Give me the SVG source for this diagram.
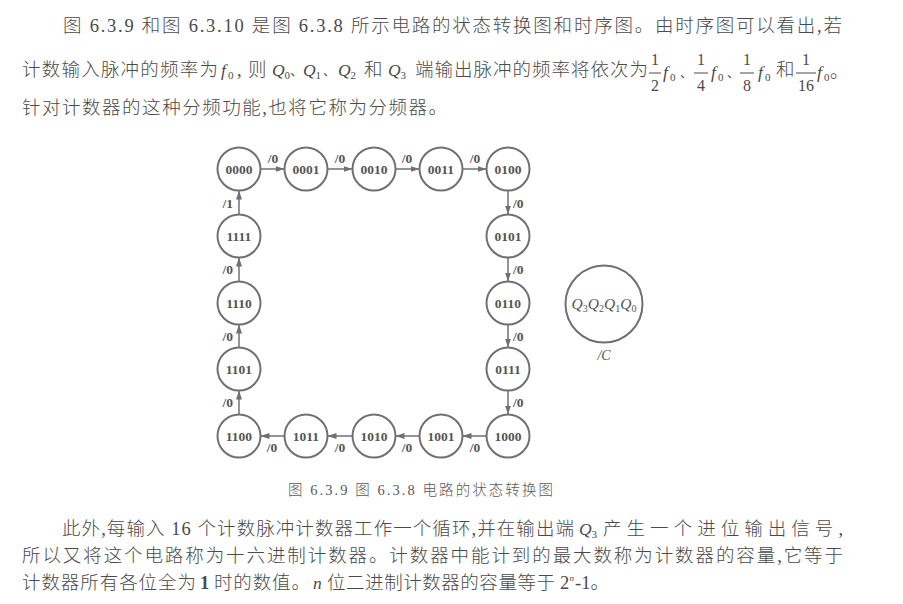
<svg xmlns="http://www.w3.org/2000/svg" width="903" height="604" viewBox="0 0 903 604">
<style>
.t{font-family:"Liberation Serif","Noto Sans CJK SC",serif;font-size:18.5px;fill:#4a4a4a;font-weight:300}
.it{font-family:"Liberation Serif",serif;font-style:italic;font-size:17.5px;fill:#4a4a4a}
.s{font-style:normal;font-size:11px}
.c{font-family:"Liberation Serif","Noto Sans CJK SC",serif;font-style:normal;font-size:18.5px;font-weight:300}
.d{font-family:"Noto Sans CJK SC",sans-serif;font-style:normal;font-size:12.5px;font-weight:400}
.n{font-style:normal;font-size:16px}
.sub{font-family:"Liberation Serif",serif;font-size:11px;fill:#4a4a4a}
.bar{stroke:#4a4a4a;stroke-width:1}
.cap{font-family:"Liberation Serif","Noto Sans CJK SC",serif;font-size:14.5px;fill:#5a5a5a;font-weight:300}
.node circle{fill:#fff;stroke:#707070;stroke-width:2}
.node text{font-family:"Liberation Serif",serif;font-weight:bold;font-size:13.5px;fill:#555;text-anchor:middle}
.edge{stroke:#707070;stroke-width:1.5;fill:none;marker-end:url(#ah)}
.lbl{font-family:"Liberation Serif",serif;font-weight:bold;font-size:13.5px;fill:#555}
.leg{font-family:"Liberation Serif",serif;font-style:italic;font-size:15px;fill:#555}
</style>
<defs>
<marker id="ah" viewBox="0 0 9 6" refX="9" refY="3" markerWidth="9" markerHeight="6" markerUnits="userSpaceOnUse" orient="auto">
<path d="M0,0 L9,3 L0,6 z" fill="#707070"/>
</marker>
</defs>
<rect width="903" height="604" fill="#fff"/>

<g id="text-top">
<text class="t" x="63" y="32" textLength="779" lengthAdjust="spacing">图 6.3.9 和图 6.3.10 是图 6.3.8 所示电路的状态转换图和时序图。由时序图可以看出,若</text>

<text class="t" x="22" y="76" textLength="196" lengthAdjust="spacing">计数输入脉冲的频率为</text>
<text class="it" y="76"><tspan x="221" y="76">f</tspan><tspan class="s" x="228" y="79">0</tspan><tspan class="c" x="237" y="76">,</tspan><tspan class="c" x="248" y="76">则</tspan><tspan x="272" y="76">Q</tspan><tspan class="s" x="284.5" y="79">0</tspan><tspan class="d" x="290.3" y="76">、</tspan><tspan x="303" y="76">Q</tspan><tspan class="s" x="315.5" y="79">1</tspan><tspan class="d" x="323" y="76">、</tspan><tspan x="338" y="76">Q</tspan><tspan class="s" x="350.5" y="79">2</tspan><tspan class="c" x="364" y="76">和</tspan><tspan x="388" y="76">Q</tspan><tspan class="s" x="400.5" y="79">3</tspan></text>
<text class="t" x="415" y="76" textLength="233" lengthAdjust="spacing">端输出脉冲的频率将依次为</text>

<line class="bar" x1="649" y1="73" x2="661" y2="73"/>
<line class="bar" x1="694" y1="73" x2="708" y2="73"/>
<line class="bar" x1="740" y1="73" x2="754" y2="73"/>
<line class="bar" x1="796" y1="73" x2="816" y2="73"/>
<text class="it" y="78"><tspan class="n" x="651" y="65">1</tspan><tspan class="n" x="651" y="91">2</tspan><tspan x="663" y="78">f</tspan><tspan class="s" x="670" y="81">0</tspan><tspan class="d" x="680" y="78">、</tspan><tspan class="n" x="697" y="65">1</tspan><tspan class="n" x="697" y="91">4</tspan><tspan x="711" y="78">f</tspan><tspan class="s" x="718" y="81">0</tspan><tspan class="d" x="727" y="78">、</tspan><tspan class="n" x="743" y="65">1</tspan><tspan class="n" x="743" y="91">8</tspan><tspan x="758" y="78">f</tspan><tspan class="s" x="765" y="81">0</tspan><tspan class="c" x="776" y="76">和</tspan><tspan class="n" x="802" y="65">1</tspan><tspan class="n" x="798" y="91">16</tspan><tspan x="817" y="78">f</tspan><tspan class="s" x="824" y="81">0</tspan><tspan class="c" x="830" y="78">。</tspan></text>

<text class="t" x="22" y="114" textLength="425" lengthAdjust="spacing">针对计数器的这种分频功能,也将它称为分频器。</text>
</g>

<g id="connectors">
<line class="edge" x1="260.5" y1="169" x2="284.5" y2="169"/>
<line class="edge" x1="327.5" y1="169" x2="352.5" y2="169"/>
<line class="edge" x1="395.5" y1="169" x2="419.5" y2="169"/>
<line class="edge" x1="462.5" y1="169" x2="486.5" y2="169"/>
<line class="edge" x1="508" y1="190.5" x2="508" y2="214.5"/>
<line class="edge" x1="508" y1="257.5" x2="508" y2="281.5"/>
<line class="edge" x1="508" y1="324.5" x2="508" y2="347.5"/>
<line class="edge" x1="508" y1="390.5" x2="508" y2="414.5"/>
<line class="edge" x1="486.5" y1="436" x2="462.5" y2="436"/>
<line class="edge" x1="419.5" y1="436" x2="395.5" y2="436"/>
<line class="edge" x1="352.5" y1="436" x2="327.5" y2="436"/>
<line class="edge" x1="284.5" y1="436" x2="260.5" y2="436"/>
<line class="edge" x1="239" y1="414.5" x2="239" y2="390.5"/>
<line class="edge" x1="239" y1="347.5" x2="239" y2="324.5"/>
<line class="edge" x1="239" y1="281.5" x2="239" y2="257.5"/>
<line class="edge" x1="239" y1="214.5" x2="239" y2="190.5"/>
<text class="lbl" x="273" y="163" text-anchor="middle">/0</text>
<text class="lbl" x="340" y="163" text-anchor="middle">/0</text>
<text class="lbl" x="407" y="163" text-anchor="middle">/0</text>
<text class="lbl" x="475" y="163" text-anchor="middle">/0</text>
<text class="lbl" x="513" y="208">/0</text>
<text class="lbl" x="513" y="274">/0</text>
<text class="lbl" x="513" y="341">/0</text>
<text class="lbl" x="513" y="407">/0</text>
<text class="lbl" x="475" y="452" text-anchor="middle">/0</text>
<text class="lbl" x="407" y="452" text-anchor="middle">/0</text>
<text class="lbl" x="340" y="452" text-anchor="middle">/0</text>
<text class="lbl" x="272" y="452" text-anchor="middle">/0</text>
<text class="lbl" x="233" y="407" text-anchor="end">/0</text>
<text class="lbl" x="233" y="341" text-anchor="end">/0</text>
<text class="lbl" x="233" y="274" text-anchor="end">/0</text>
<text class="lbl" x="233" y="208" text-anchor="end">/1</text>
</g>

<g id="n0000" class="node"><circle cx="239" cy="169" r="21.5"/><text x="239" y="173.5">0000</text></g>
<g id="n0001" class="node"><circle cx="306" cy="169" r="21.5"/><text x="306" y="173.5">0001</text></g>
<g id="n0010" class="node"><circle cx="374" cy="169" r="21.5"/><text x="374" y="173.5">0010</text></g>
<g id="n0011" class="node"><circle cx="441" cy="169" r="21.5"/><text x="441" y="173.5">0011</text></g>
<g id="n0100" class="node"><circle cx="508" cy="169" r="21.5"/><text x="508" y="173.5">0100</text></g>
<g id="n0101" class="node"><circle cx="508" cy="236" r="21.5"/><text x="508" y="240.5">0101</text></g>
<g id="n0110" class="node"><circle cx="508" cy="303" r="21.5"/><text x="508" y="307.5">0110</text></g>
<g id="n0111" class="node"><circle cx="508" cy="369" r="21.5"/><text x="508" y="373.5">0111</text></g>
<g id="n1000" class="node"><circle cx="508" cy="436" r="21.5"/><text x="508" y="440.5">1000</text></g>
<g id="n1001" class="node"><circle cx="441" cy="436" r="21.5"/><text x="441" y="440.5">1001</text></g>
<g id="n1010" class="node"><circle cx="374" cy="436" r="21.5"/><text x="374" y="440.5">1010</text></g>
<g id="n1011" class="node"><circle cx="306" cy="436" r="21.5"/><text x="306" y="440.5">1011</text></g>
<g id="n1100" class="node"><circle cx="239" cy="436" r="21.5"/><text x="239" y="440.5">1100</text></g>
<g id="n1101" class="node"><circle cx="239" cy="369" r="21.5"/><text x="239" y="373.5">1101</text></g>
<g id="n1110" class="node"><circle cx="239" cy="303" r="21.5"/><text x="239" y="307.5">1110</text></g>
<g id="n1111" class="node"><circle cx="239" cy="236" r="21.5"/><text x="239" y="240.5">1111</text></g>

<g id="legend" class="node">
<circle cx="604" cy="304" r="38.5"/>
<text class="leg" x="604" y="309" style="font-weight:normal;font-style:italic;font-size:15.5px">Q<tspan dy="3" font-size="10" font-style="normal">3</tspan><tspan dy="-3">Q</tspan><tspan dy="3" font-size="10" font-style="normal">2</tspan><tspan dy="-3">Q</tspan><tspan dy="3" font-size="10" font-style="normal">1</tspan><tspan dy="-3">Q</tspan><tspan dy="3" font-size="10" font-style="normal">0</tspan></text>
<text class="leg" x="604" y="360" style="font-weight:normal;font-size:14px">/C</text>
</g>

<text id="caption" class="cap" x="288" y="495" textLength="265" lengthAdjust="spacing">图 6.3.9   图 6.3.8 电路的状态转换图</text>

<g id="text-bottom">
<text class="t" x="62" y="535" textLength="512" lengthAdjust="spacing">此外,每输入 16 个计数脉冲计数器工作一个循环,并在输出端</text>
<text class="it" x="579" y="535">Q</text><text class="sub" x="591.5" y="538">3</text>
<text class="t" x="603" y="535" textLength="240" lengthAdjust="spacing">产生一个进位输出信号,</text>

<text class="t" x="22" y="562" textLength="821" lengthAdjust="spacing">所以又将这个电路称为十六进制计数器。计数器中能计到的最大数称为计数器的容量,它等于</text>

<text class="t" x="22" y="589" textLength="174" lengthAdjust="spacing">计数器所有各位全为</text>
<text class="t" x="200" y="589" style="font-weight:bold">1</text>
<text class="t" x="214" y="589" textLength="96" lengthAdjust="spacing">时的数值。</text>
<text class="it" x="313" y="589">n</text>
<text class="t" x="327" y="589" textLength="228" lengthAdjust="spacing">位二进制计数器的容量等于</text>
<text class="t" x="560" y="589">2</text><text class="sub" x="569.5" y="581" style="font-style:italic;font-size:9px">n</text><text class="t" x="575" y="589">-1。</text>
</g>
</svg>
